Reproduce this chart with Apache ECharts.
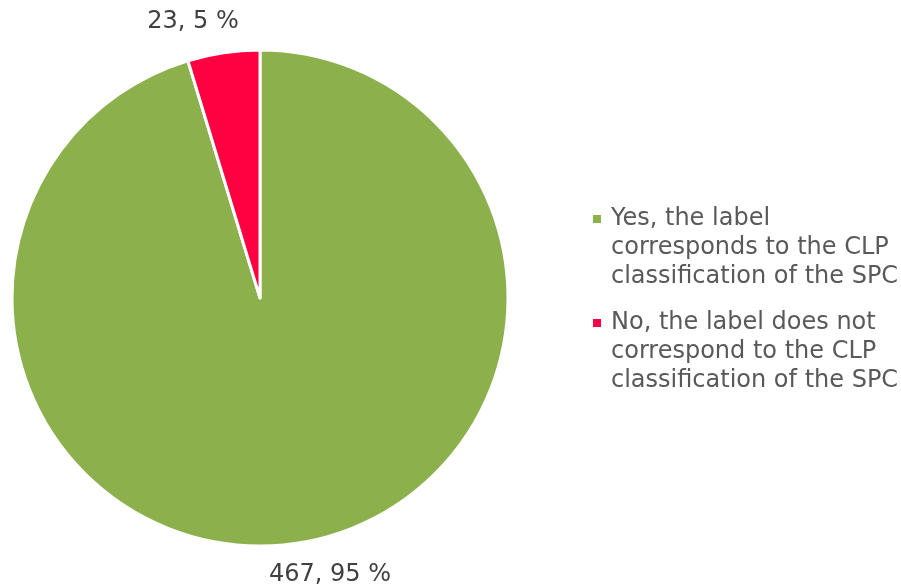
<!DOCTYPE html>
<html>
<head>
<meta charset="utf-8">
<script src="https://cdn.jsdelivr.net/npm/echarts@6/dist/echarts.min.js"></script>
<style>
  html, body { margin: 0; padding: 0; background: #ffffff; }
  #chart { width: 901px; height: 587px; }
</style>
</head>
<body>
<div id="chart"></div>
<script>
// Categories and counts for the pie
const categories = [
  'Yes, the label\ncorresponds to the CLP\nclassification of the SPC',
  'No, the label does not\ncorrespond to the CLP\nclassification of the SPC'
];
const counts = [467, 23];
const percents = [95, 5];
const colors = ['#8BB04C', '#FF0041'];

const FONT = 'DejaVu Sans';
const chart = echarts.init(document.getElementById('chart'), null, { renderer: 'canvas' });

const pieData = categories.map((name, i) => ({
  name: name,
  value: counts[i],
  pct: percents[i],
  itemStyle: { color: colors[i] }
}));

// Where each value label sits
const labelAnchors = [
  { x: 330, y: 575 },
  { x: 193, y: 22 }
];

// Legend entries: small square beside the first line, wrapped lines indented
function legendText(name) {
  const idx = categories.indexOf(name);
  const lines = name.split('\n');
  return lines.map((ln, k) =>
    (k === 0 ? '{sq' + idx + '| }{gap| }' : '{ind| }') + '{t|' + ln + '}'
  ).join('\n');
}

chart.setOption({
  animation: false,
  backgroundColor: '#ffffff',
  legend: {
    orient: 'vertical',
    left: 583,
    top: 202,
    icon: 'none',
    itemWidth: 0,
    itemHeight: 0,
    itemGap: 22,
    selectedMode: false,
    formatter: legendText,
    textStyle: {
      fontFamily: FONT,
      fontSize: 24,
      color: '#595959',
      rich: {
        t: { fontFamily: FONT, fontSize: 24, lineHeight: 29, color: '#595959' },
        sq0: { width: 8, height: 8, backgroundColor: colors[0], fontSize: 1 },
        sq1: { width: 8, height: 8, backgroundColor: colors[1], fontSize: 1 },
        gap: { width: 10, fontSize: 1 },
        ind: { width: 18, fontSize: 1 }
      }
    },
    data: categories
  },
  series: [{
    type: 'pie',
    center: [260, 298],
    radius: [0, 248],
    startAngle: 90,
    clockwise: true,
    data: pieData,
    itemStyle: { borderColor: '#ffffff', borderWidth: 3 },
    label: {
      show: true,
      position: 'outside',
      formatter: p => p.value + ', ' + p.data.pct + ' %',
      fontFamily: FONT,
      fontSize: 24,
      color: '#404040'
    },
    labelLine: { show: false },
    labelLayout: params => ({
      x: labelAnchors[params.dataIndex].x,
      y: labelAnchors[params.dataIndex].y,
      align: 'center',
      verticalAlign: 'middle'
    }),
    emphasis: { disabled: true }
  }]
});
</script>
</body>
</html>
